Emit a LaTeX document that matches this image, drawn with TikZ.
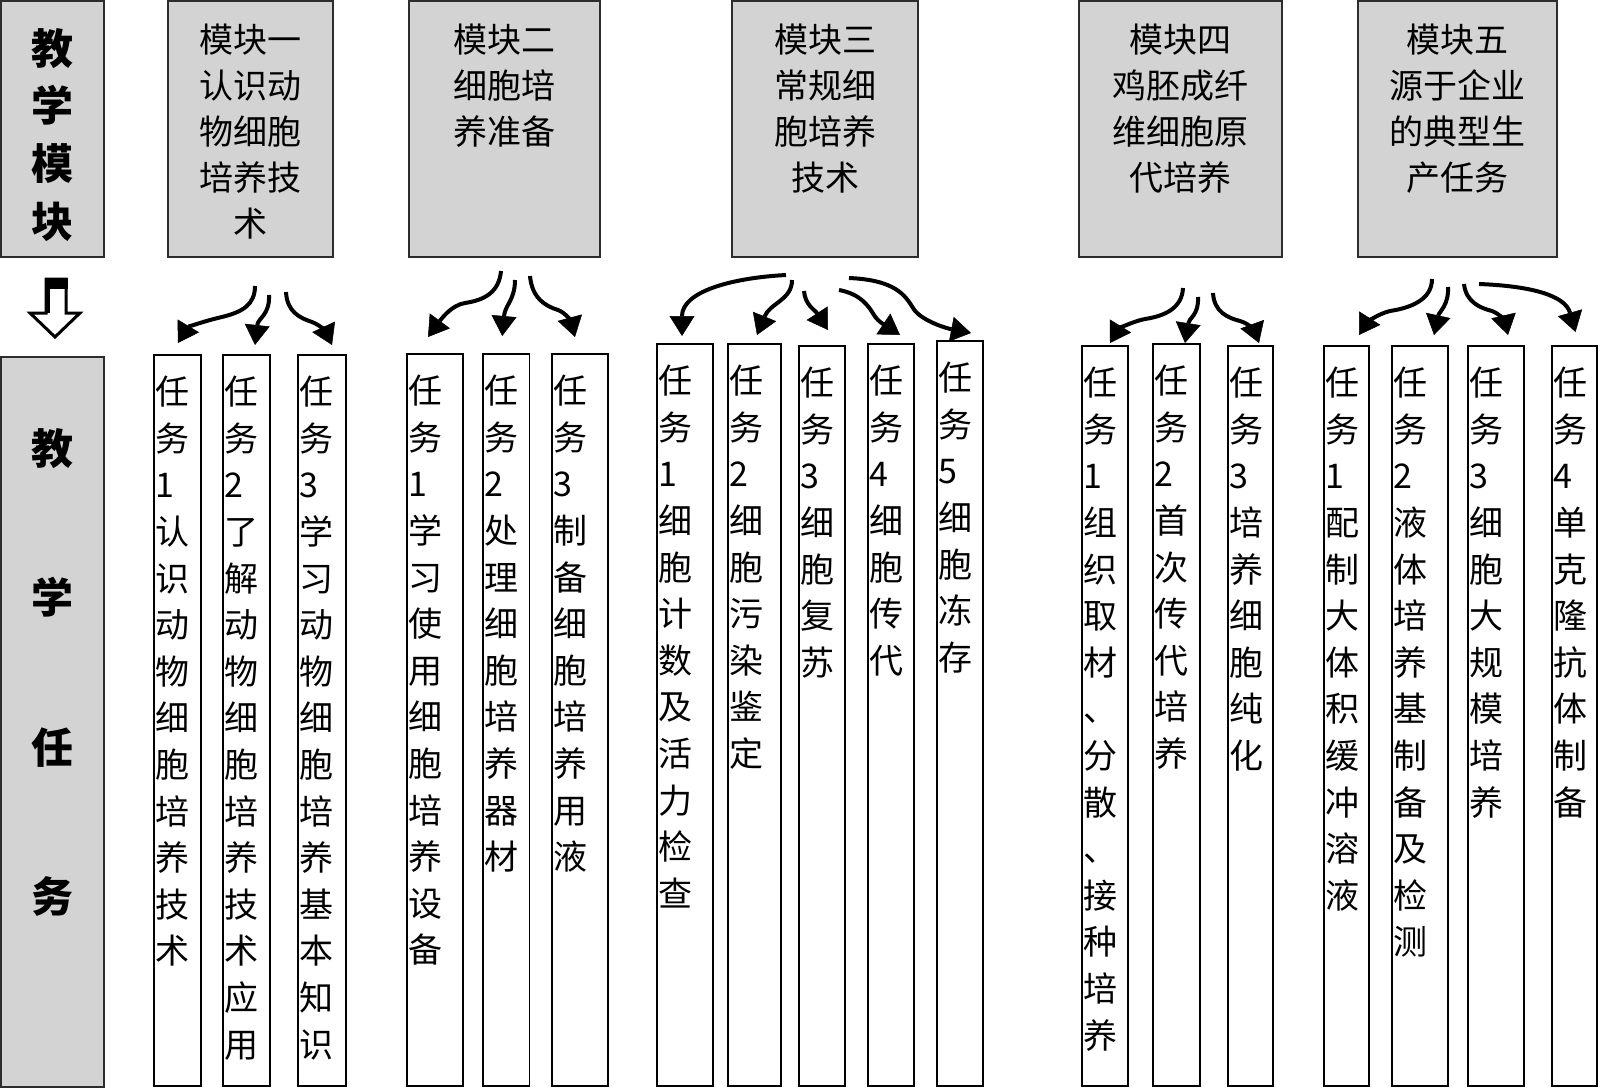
\documentclass[tikz,border=0pt]{standalone}
\usepackage{fontspec}
\setmainfont{Noto Sans CJK SC}
\usetikzlibrary{arrows.meta,calc}
\definecolor{boxgray}{RGB}{211,211,211}
\definecolor{edge}{RGB}{45,45,45}
\begin{document}
\begin{tikzpicture}[x=1pt,y=-1pt,
  modbox/.style={draw=edge, line width=2pt, fill=boxgray, outer sep=0pt, inner sep=0pt, anchor=north west},
  taskbox/.style={draw=black, line width=1.8pt, fill=white, outer sep=0pt, inner sep=0pt, anchor=north west, minimum height=#1},
  modtext/.style={align=center, inner sep=0pt, anchor=north, font=\fontsize{34}{46}\selectfont},
  tasktext/.style={align=left, inner sep=0pt, anchor=north west, font=\fontsize{34}{46.6}\selectfont},
  sidetext/.style={align=center, inner sep=0pt, anchor=north, font=\fontsize{42}{#1}\selectfont\bfseries},
  curv/.style={line width=4pt, -{Triangle[length=20pt,width=25pt,line width=0.5pt]}},
]
\useasboundingbox (0,0) rectangle (1600,1089);
\fill[white] (0,0) rectangle (1600,1089);

% left column
\node[modbox, minimum width=103pt, minimum height=256pt] (lt) at (1,1) {};
\node[sidetext=57.8] (ltt) at (52.5,28) {教\\学\\模\\块};
\node[modbox, minimum width=103pt, minimum height=730pt] (lb) at (1,357) {};
\node[sidetext=149.5] (lbt) at (52.5,428) {教\\学\\任\\务};

% hollow arrow
\draw[line width=3pt, fill=white, line join=miter] (46,279) -- (66,279) -- (66,313) -- (80,313) -- (55,337) -- (30,313) -- (46,313) -- cycle;
\fill[black] (44.5,277.5) rectangle (67.5,289);
\fill[black] (44.5,277.5) rectangle (50,313);

% module boxes
\node[modbox, minimum width=165pt, minimum height=256pt] (m1) at (168,1) {};
\node[modbox, minimum width=191.5pt, minimum height=256pt] (m2) at (408.5,1) {};
\node[modbox, minimum width=186pt, minimum height=256pt] (m3) at (732,1) {};
\node[modbox, minimum width=203pt, minimum height=256pt] (m4) at (1079,1) {};
\node[modbox, minimum width=199pt, minimum height=256pt] (m5) at (1358,1) {};
\node[modtext] (m1t) at (250.5,24) {模块一\\认识动\\物细胞\\培养技\\术};
\node[modtext] (m2t) at (504,24) {模块二\\细胞培\\养准备};
\node[modtext] (m3t) at (825,24) {模块三\\常规细\\胞培养\\技术};
\node[modtext] (m4t) at (1180.5,24) {模块四\\鸡胚成纤\\维细胞原\\代培养};
\node[modtext] (m5t) at (1457.5,24) {模块五\\源于企业\\的典型生\\产任务};

% task boxes
\node[taskbox=731pt, minimum width=47pt] (t11) at (154,355) {};
\node[taskbox=731pt, minimum width=47pt] (t12) at (223,355) {};
\node[taskbox=731pt, minimum width=48pt] (t13) at (298,355) {};
\node[taskbox=732pt, minimum width=56pt] (t21) at (407,354) {};
\node[taskbox=732pt, minimum width=46.5pt] (t22) at (483,354) {};
\node[taskbox=732pt, minimum width=56pt] (t23) at (552,354) {};
\node[taskbox=742pt, minimum width=56pt] (t31) at (657,344) {};
\node[taskbox=742pt, minimum width=53pt] (t32) at (728,344) {};
\node[taskbox=740pt, minimum width=46pt] (t33) at (799,346) {};
\node[taskbox=742pt, minimum width=46pt] (t34) at (868,344) {};
\node[taskbox=745pt, minimum width=46pt] (t35) at (937,341) {};
\node[taskbox=740pt, minimum width=46pt] (t41) at (1082,346) {};
\node[taskbox=742pt, minimum width=47pt] (t42) at (1153,344) {};
\node[taskbox=740pt, minimum width=45pt] (t43) at (1228,346) {};
\node[taskbox=740pt, minimum width=45pt] (t51) at (1324,346) {};
\node[taskbox=740pt, minimum width=56pt] (t52) at (1392,346) {};
\node[taskbox=740pt, minimum width=56pt] (t53) at (1468,346) {};
\node[taskbox=740pt, minimum width=45pt] (t54) at (1552,346) {};

% task texts
\node[tasktext] (x11) at (155.5,376) {任\\务\\1\\认\\识\\动\\物\\细\\胞\\培\\养\\技\\术};
\node[tasktext] (x12) at (224.5,376) {任\\务\\2\\了\\解\\动\\物\\细\\胞\\培\\养\\技\\术\\应\\用};
\node[tasktext] (x13) at (299.5,376) {任\\务\\3\\学\\习\\动\\物\\细\\胞\\培\\养\\基\\本\\知\\识};
\node[tasktext] (x21) at (408.5,375) {任\\务\\1\\学\\习\\使\\用\\细\\胞\\培\\养\\设\\备};
\node[tasktext] (x22) at (484.5,375) {任\\务\\2\\处\\理\\细\\胞\\培\\养\\器\\材};
\node[tasktext] (x23) at (553.5,375) {任\\务\\3\\制\\备\\细\\胞\\培\\养\\用\\液};
\node[tasktext] (x31) at (658.5,365) {任\\务\\1\\细\\胞\\计\\数\\及\\活\\力\\检\\查};
\node[tasktext] (x32) at (729.5,365) {任\\务\\2\\细\\胞\\污\\染\\鉴\\定};
\node[tasktext] (x33) at (800.5,367) {任\\务\\3\\细\\胞\\复\\苏};
\node[tasktext] (x34) at (869.5,365) {任\\务\\4\\细\\胞\\传\\代};
\node[tasktext] (x35) at (938.5,362) {任\\务\\5\\细\\胞\\冻\\存};
\node[tasktext] (x41) at (1083.5,367) {任\\务\\1\\组\\织\\取\\材\\、\\分\\散\\、\\接\\种\\培\\养};
\node[tasktext] (x42) at (1154.5,365) {任\\务\\2\\首\\次\\传\\代\\培\\养};
\node[tasktext] (x43) at (1229.5,367) {任\\务\\3\\培\\养\\细\\胞\\纯\\化};
\node[tasktext] (x51) at (1325.5,367) {任\\务\\1\\配\\制\\大\\体\\积\\缓\\冲\\溶\\液};
\node[tasktext] (x52) at (1393.5,367) {任\\务\\2\\液\\体\\培\\养\\基\\制\\备\\及\\检\\测};
\node[tasktext] (x53) at (1469.5,367) {任\\务\\3\\细\\胞\\大\\规\\模\\培\\养};
\node[tasktext] (x54) at (1553.5,367) {任\\务\\4\\单\\克\\隆\\抗\\体\\制\\备};

% arrow start points
\coordinate (s11) at (255,286);
\coordinate (s12) at (269,295);
\coordinate (s13) at (286,292);
\coordinate (s21) at (501,271);
\coordinate (s22) at (515,280);
\coordinate (s23) at (530,276);
\coordinate (s31) at (786,275);
\coordinate (s32) at (792,280);
\coordinate (s33) at (804,291);
\coordinate (s34) at (839,290);
\coordinate (s35) at (849,278);
\coordinate (s41) at (1183,288);
\coordinate (s42) at (1198,297);
\coordinate (s43) at (1213,293);
\coordinate (s51) at (1432,279);
\coordinate (s52) at (1448,287);
\coordinate (s53) at (1464,284);
\coordinate (s54) at (1479,284);

% curved arrows
\draw[curv] (s11) .. controls (255,305) and (242,312) .. (222,317) .. controls (200,322) and (187,328) .. ($(t11.north)+(0.5,-12)$);
\draw[curv] (s12) .. controls (270,315) and (258,318) .. ($(t12.north)+(8.5,-10)$);
\draw[curv] (s13) .. controls (287,312) and (300,318) .. (312,322) .. controls (320,325) and (326,332) .. ($(t13.north)+(10,-10)$);

\draw[curv] (s21) .. controls (499,292) and (485,300) .. (465,303) .. controls (452,305) and (442,318) .. ($(t21.north)+(-7,-17)$);
\draw[curv] (s22) .. controls (515,300) and (505,305) .. ($(t22.north)+(-4,-18)$);
\draw[curv] (s23) .. controls (532,298) and (545,306) .. (558,310) .. controls (566,313) and (571,322) .. ($(t23.north)+(-5,-17)$);

\draw[curv] (s31) .. controls (730,278) and (682,292) .. ($(t31.north)+(-3,-8)$);
\draw[curv] (s32) .. controls (792,300) and (770,303) .. ($(t32.north)+(2.5,-9)$);
\draw[curv] (s33) .. controls (805,305) and (815,310) .. ($(t33.north)+(6,-16)$);
\draw[curv] (s34) .. controls (860,294) and (868,305) .. (874,315) .. controls (878,322) and (888,327) .. ($(t34.north)+(9,-9)$);
\draw[curv] (s35) .. controls (895,280) and (905,295) .. (913,308) .. controls (920,320) and (945,328) .. ($(t35.north)+(11,-8)$);

\draw[curv] (s41) .. controls (1182,308) and (1165,316) .. (1145,319) .. controls (1130,322) and (1118,330) .. ($(t41.north)+(5,-3)$);
\draw[curv] (s42) .. controls (1199,315) and (1189,318) .. ($(t42.north)+(8.5,-1)$);
\draw[curv] (s43) .. controls (1214,312) and (1228,318) .. (1240,321) .. controls (1250,324) and (1255,332) .. ($(t43.north)+(8.5,-3)$);

\draw[curv] (s51) .. controls (1432,300) and (1410,308) .. (1390,311) .. controls (1377,314) and (1366,324) .. ($(t51.north)+(12.5,-11)$);
\draw[curv] (s52) .. controls (1449,305) and (1439,312) .. ($(t52.north)+(14,-11)$);
\draw[curv] (s53) .. controls (1466,302) and (1480,308) .. (1492,311) .. controls (1500,314) and (1505,322) .. ($(t53.north)+(12,-11)$);
\draw[curv] (s54) .. controls (1530,286) and (1565,295) .. ($(t54.north)+(1,-14)$);
\end{tikzpicture}
\end{document}
